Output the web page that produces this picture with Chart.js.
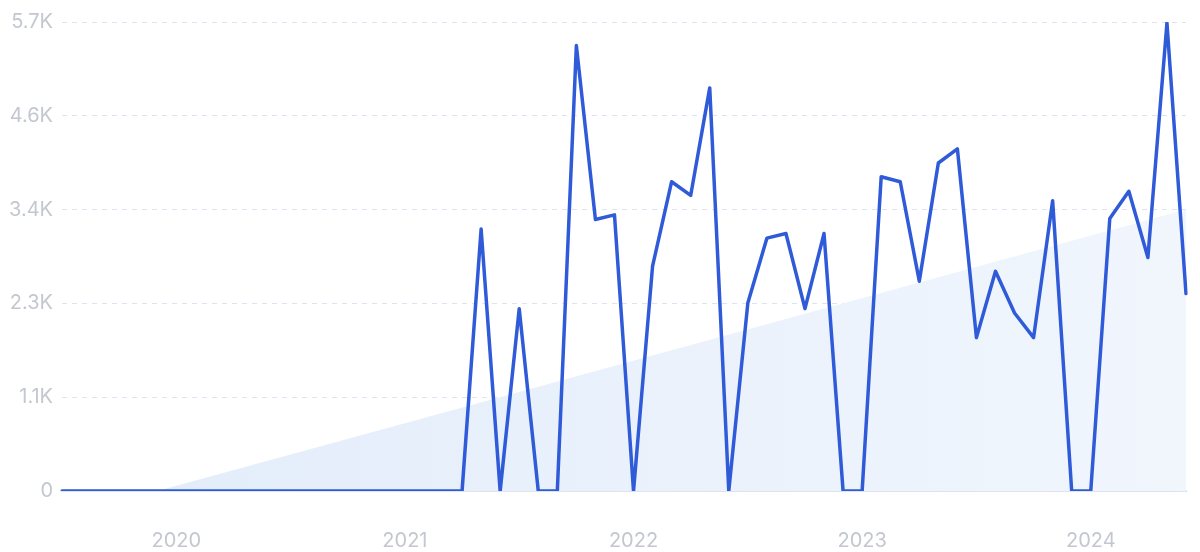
<!DOCTYPE html>
<html>
<head>
<meta charset="utf-8">
<script src="https://cdn.jsdelivr.net/npm/chart.js@4.4.1/dist/chart.umd.min.js"></script>
<style>
  html, body { margin: 0; padding: 0; background: #ffffff; }
  #wrap { width: 1200px; height: 552px; position: relative; }
</style>
</head>
<body>
<div id="wrap"><canvas id="c" width="1200" height="552"></canvas></div>
<script>
// Months Jul 2019 .. Jun 2024
const monthNames = ['Jan','Feb','Mar','Apr','May','Jun','Jul','Aug','Sep','Oct','Nov','Dec'];
const categories = [];
for (let y = 2019; y <= 2024; y++) {
  for (let m = 0; m < 12; m++) {
    if (y === 2019 && m < 6) continue;
    if (y === 2024 && m > 5) continue;
    categories.push(monthNames[m] + ' ' + y);
  }
}

const searchVolume = [
  0, 0, 0, 0, 0, 0, 0, 0, 0, 0, 0, 0,
  0, 0, 0, 0, 0, 0, 0, 0, 0, 0, 3184, 0,
  2216, 0, 0, 5413, 3300, 3356, 0, 2734, 3759, 3592, 4899, 0,
  2284, 3073, 3129, 2216, 3129, 0, 0, 3819, 3759, 2550, 3986, 4157,
  1864, 2670, 2164, 1864, 3527, 0, 0, 3313, 3643, 2837, 5687, 2400
];

// Trend line endpoints (category label, value)
const trendLabels = ['Dec 2019', 'Jun 2024'];
const trendValues = [0, 3420];

const yTicks = [0, 1140, 2280, 3420, 4560, 5700];
const yTickLabels = ['0', '1.1K', '2.3K', '3.4K', '4.6K', '5.7K'];
const yearLabels = ['2020', '2021', '2022', '2023', '2024'];

const ctx = document.getElementById('c').getContext('2d');

function trendGradient(context) {
  const chart = context.chart;
  const area = chart.chartArea;
  if (!area) return '#e6effb';
  const g = chart.ctx.createLinearGradient(area.left, 0, area.right, 0);
  g.addColorStop(0, '#e2ecfa');
  g.addColorStop(1, '#f1f6fd');
  return g;
}

new Chart(ctx, {
  type: 'line',
  data: {
    labels: categories,
    datasets: [
      {
        label: 'Volume',
        data: searchVolume,
        borderColor: '#2f5bd8',
        borderWidth: 3.5,
        pointRadius: 0,
        tension: 0,
        fill: false,
        order: 1,
        borderJoinStyle: 'round',
        borderCapStyle: 'round'
      },
      {
        label: 'Trend',
        data: trendLabels.map((l, i) => ({ x: l, y: trendValues[i] })),
        borderWidth: 0,
        borderColor: 'rgba(0,0,0,0)',
        backgroundColor: trendGradient,
        pointRadius: 0,
        fill: 'origin',
        order: 2
      }
    ]
  },
  options: {
    responsive: false,
    animation: false,
    devicePixelRatio: 1,
    layout: { padding: { top: 22, right: 14, left: 0, bottom: 0 } },
    plugins: { legend: { display: false }, tooltip: { enabled: false } },
    scales: {
      x: {
        type: 'category',
        offset: false,
        grid: { display: false, drawTicks: false },
        border: { display: true, color: '#dde4ef', width: 2 },
        ticks: {
          autoSkip: false,
          maxRotation: 0,
          padding: 38,
          color: '#c3c7cf',
          font: { family: 'Inter', size: 20 },
          callback: function (value, index) {
            const lab = categories[index];
            if (lab && lab.startsWith('Jan ')) {
              const yr = lab.slice(4);
              return yearLabels.includes(yr) ? yr : null;
            }
            return null;
          }
        },
        afterFit: function (scale) { scale.height = 61; }
      },
      y: {
        min: 0,
        max: 5700,
        afterBuildTicks: function (scale) {
          scale.ticks = yTicks.map(v => ({ value: v }));
        },
        grid: { color: '#dce4f1', lineWidth: 1, drawTicks: false },
        border: { display: false, dash: [5, 5] },
        ticks: {
          padding: 9,
          color: '#c3c7cf',
          font: { family: 'Inter', size: 20 },
          callback: function (value) {
            const i = yTicks.indexOf(value);
            return i >= 0 ? yTickLabels[i] : '';
          }
        },
        afterFit: function (scale) { scale.width = 62; }
      }
    }
  }
});
</script>
</body>
</html>
